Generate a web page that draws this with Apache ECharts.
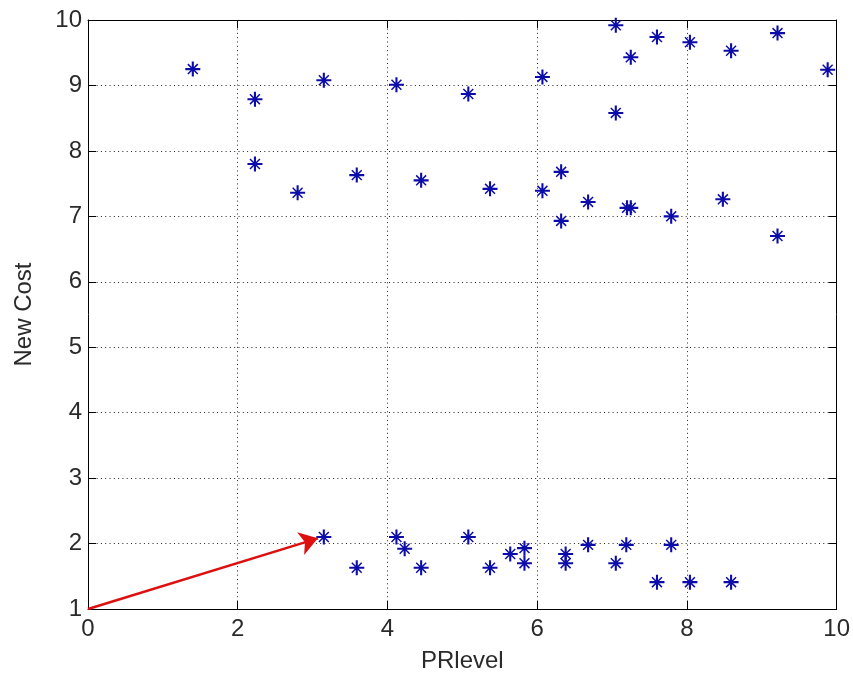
<!DOCTYPE html>
<html>
<head>
<meta charset="utf-8">
<script src="https://cdn.jsdelivr.net/npm/echarts@6/dist/echarts.min.js"></script>
<style>
html,body{margin:0;padding:0;background:#fff;}
#chart{width:853px;height:679px;}
</style>
</head>
<body>
<div id="chart"></div>
<script>
// Upper cluster (PRlevel, New Cost)
const upperX = [1.40, 2.23, 2.23, 2.80, 3.15, 3.59, 4.12, 4.45, 5.08, 5.37, 6.07, 6.07, 6.32, 6.32, 6.68, 7.05, 7.25, 7.60, 8.04, 8.59, 9.21, 9.88, 7.05, 7.20, 7.25, 7.79, 8.48, 9.21];
const upperY = [9.25, 8.79, 7.80, 7.36, 9.08, 7.63, 9.01, 7.55, 8.87, 7.42, 9.13, 7.39, 7.68, 6.93, 7.22, 9.92, 9.43, 9.74, 9.66, 9.53, 9.80, 9.24, 8.58, 7.13, 7.13, 7.00, 7.26, 6.70];
// Lower cluster
const lowerX = [3.15, 3.59, 4.12, 4.23, 4.45, 5.08, 5.37, 5.64, 5.83, 5.83, 6.38, 6.38, 6.68, 7.05, 7.19, 7.60, 7.79, 8.04, 8.59];
const lowerY = [2.10, 1.63, 2.10, 1.92, 1.63, 2.10, 1.63, 1.84, 1.93, 1.70, 1.84, 1.70, 1.98, 1.70, 1.98, 1.41, 1.98, 1.41, 1.41];
// Arrow annotation
const arrowStart = [0, 1];
const arrowEnd = [3.07, 2.08];
// Axes
const xTicks = [0, 2, 4, 6, 8, 10];
const yTicks = [1, 2, 3, 4, 5, 6, 7, 8, 9, 10];
const xName = 'PRlevel';
const yName = 'New Cost';

const points = [];
upperX.forEach((x, i) => points.push([x, upperY[i]]));
lowerX.forEach((x, i) => points.push([x, lowerY[i]]));

const star = 'path://M0,8.6 L20,8.6 L20,11.4 L0,11.4 Z M8.6,0 L11.4,0 L11.4,20 L8.6,20 Z ' +
  'M4.1,2.7 L17.3,15.9 L15.9,17.3 L2.7,4.1 Z M15.9,2.7 L17.3,4.1 L4.1,17.3 L2.7,15.9 Z ' +
  'M7.5,7.5 L12.5,7.5 L12.5,12.5 L7.5,12.5 Z';

const FONT = 'Liberation Sans, Arial, sans-serif';
const labelStyle = {color: '#2a2a2a', fontSize: 24, fontFamily: FONT};
const grid = {left: 88, right: 15, top: 20, bottom: 70, containLabel: false};
const axisLine = {show: true, onZero: false, lineStyle: {color: '#000', width: 1}};
const tickStyle = {show: true, inside: true, length: 8, lineStyle: {color: '#000', width: 1}};

const chart = echarts.init(document.getElementById('chart'), null, {renderer: 'canvas'});
chart.setOption({
  animation: false,
  backgroundColor: '#fff',
  grid: grid,
  xAxis: [{
    type: 'value', min: xTicks[0], max: xTicks[xTicks.length - 1], interval: 2,
    position: 'bottom',
    name: xName, nameLocation: 'middle', nameGap: 40,
    nameTextStyle: {color: '#2a2a2a', fontSize: 24, fontFamily: FONT},
    axisLine: axisLine, axisTick: tickStyle,
    axisLabel: Object.assign({margin: 8}, labelStyle),
    splitLine: {show: true, lineStyle: {color: '#222', width: 1, type: [1, 3.3]}}
  }, {
    type: 'value', min: xTicks[0], max: xTicks[xTicks.length - 1], interval: 2,
    position: 'top',
    axisLine: axisLine, axisTick: tickStyle,
    axisLabel: {show: false}, splitLine: {show: false}
  }],
  yAxis: [{
    type: 'value', min: yTicks[0], max: yTicks[yTicks.length - 1], interval: 1,
    position: 'left',
    name: yName, nameLocation: 'middle', nameGap: 52,
    nameTextStyle: {color: '#2a2a2a', fontSize: 24, fontFamily: FONT},
    axisLine: axisLine, axisTick: tickStyle,
    axisLabel: Object.assign({margin: 6}, labelStyle),
    splitLine: {show: true, lineStyle: {color: '#222', width: 1, type: [1, 3.3]}}
  }, {
    type: 'value', min: yTicks[0], max: yTicks[yTicks.length - 1], interval: 1,
    position: 'right',
    axisLine: axisLine, axisTick: tickStyle,
    axisLabel: {show: false}, splitLine: {show: false}
  }],
  series: [{
    type: 'scatter',
    xAxisIndex: 0, yAxisIndex: 0,
    data: points,
    symbol: star,
    symbolSize: 15,
    itemStyle: {color: '#0c0ca8', opacity: 1},
    silent: true,
    markLine: {
      silent: true,
      animation: false,
      symbol: ['none', 'arrow'],
      symbolSize: 18,
      label: {show: false},
      lineStyle: {color: '#dd1010', width: 2.5, type: 'solid'},
      emphasis: {disabled: true},
      data: [[{coord: arrowStart}, {coord: arrowEnd}]]
    }
  }]
});
</script>
</body>
</html>
